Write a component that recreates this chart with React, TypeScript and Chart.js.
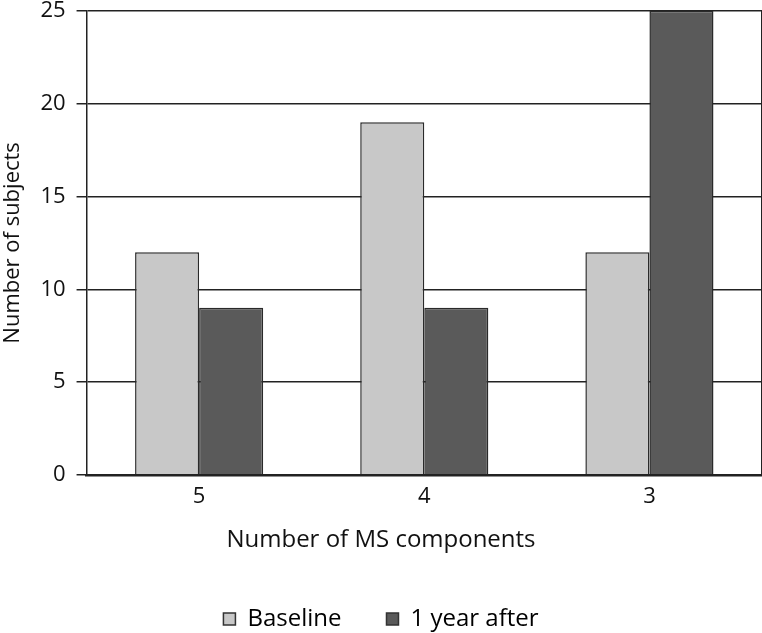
import React, { useEffect, useRef } from "react";
import { Chart, registerables } from "chart.js";
Chart.register(...registerables);

const categories = ["5", "4", "3"];
const baseline = [12, 19, 12];
const oneYearAfter = [9, 9, 25];
const yTicks = [0, 5, 10, 15, 20, 25];
const seriesNames = ["Baseline", "1 year after"];

const FONT = "'Open Sans', sans-serif";

export default function App() {
  const ref = useRef<HTMLCanvasElement | null>(null);
  useEffect(() => {
    document.body.style.margin = "0";
    const ctx = ref.current!.getContext("2d")!;
    const chart = new Chart(ctx, {
      type: "bar",
      data: {
        labels: categories,
        datasets: [
          {
            label: seriesNames[0],
            data: baseline,
            backgroundColor: "#c8c8c8",
            borderColor: "#2a2a2a",
            borderWidth: 1.5,
          },
          {
            label: seriesNames[1],
            data: oneYearAfter,
            backgroundColor: "#5a5a5a",
            borderColor: "#2a2a2a",
            borderWidth: 1.5,
          },
        ],
      },
      options: {
        animation: false,
        responsive: false,
        layout: { padding: { left: 0, right: 0, top: 0, bottom: 0 } },
        datasets: { bar: { categoryPercentage: 0.569, barPercentage: 1 } },
        scales: {
          x: {
            grid: { display: false, drawTicks: false },
            border: { display: true, color: "#222", width: 2.5 },
            ticks: { color: "#111", font: { family: FONT, size: 22 }, padding: 9 },
          },
          y: {
            min: 0,
            max: 25,
            afterBuildTicks: (axis: any) => {
              axis.ticks = yTicks.map((v) => ({ value: v }));
            },
            grid: { color: "#222", lineWidth: 1.5, tickLength: 10, drawTicks: true },
            border: { display: true, color: "#222", width: 1.5 },
            ticks: { color: "#111", font: { family: FONT, size: 22, lineHeight: 0 }, padding: 11 },
            title: {
              display: true,
              text: "Number of subjects",
              color: "#111",
              font: { family: FONT, size: 22 },
              padding: { top: 0, bottom: 3 },
            },
          },
          y2: {
            position: "right",
            min: 0,
            max: 25,
            grid: { display: false, drawTicks: false },
            border: { display: true, color: "#222", width: 1.5 },
            ticks: { display: false },
          },
        },
        plugins: {
          title: {
            display: true,
            position: "bottom",
            text: "Number of MS components",
            color: "#111",
            font: { family: FONT, size: 24, weight: "normal" },
            padding: { top: 7, bottom: 7 },
          },
          legend: {
            position: "bottom",
            weight: 3000,
            maxHeight: 71,
            labels: {
              color: "#111",
              font: { family: FONT, size: 24 },
              boxWidth: 12,
              boxHeight: 12,
              padding: 45,
              generateLabels: (c: any) =>
                c.data.datasets.map((d: any, i: number) => ({
                  text: d.label,
                  fillStyle: d.backgroundColor,
                  strokeStyle: "#333",
                  lineWidth: 1.5,
                  datasetIndex: i,
                  hidden: false,
                })),
            },
          },
          tooltip: { enabled: false },
        },
      },
    });
    return () => chart.destroy();
  }, []);
  return <canvas ref={ref} width={762} height={633} style={{ display: "block" }} />;
}
